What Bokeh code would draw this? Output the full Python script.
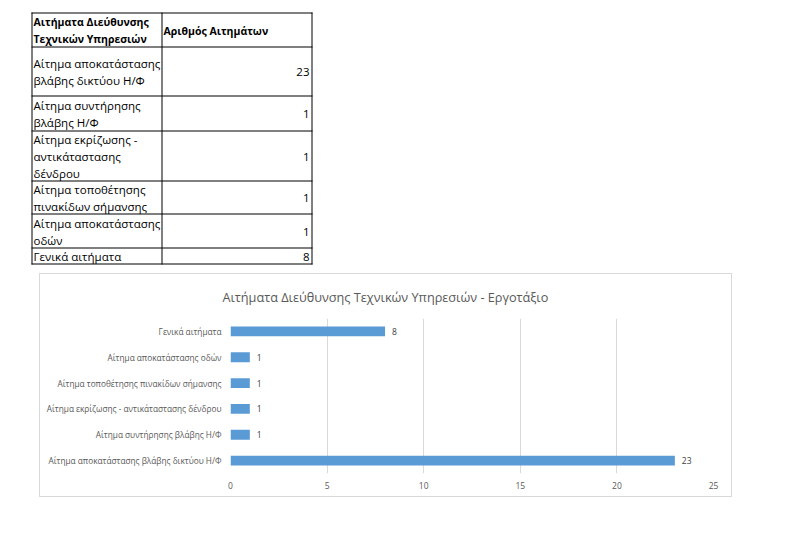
from bokeh.plotting import figure
from bokeh.models import Range1d, FactorRange, ColumnDataSource, FixedTicker, Spacer
from bokeh.layouts import column, row
from bokeh.embed import file_html
from bokeh.resources import INLINE
from bokeh.core.properties import value

# ---------------- data ----------------
title_text = "Αιτήματα Διεύθυνσης Τεχνικών Υπηρεσιών - Εργοτάξιο"
header_col1 = ["Αιτήματα Διεύθυνσης", "Τεχνικών Υπηρεσιών"]
header_col2 = ["Αριθμός Αιτημάτων"]

categories = [
    "Αίτημα αποκατάστασης βλάβης δικτύου Η/Φ",
    "Αίτημα συντήρησης βλάβης Η/Φ",
    "Αίτημα εκρίζωσης - αντικάταστασης δένδρου",
    "Αίτημα τοποθέτησης πινακίδων σήμανσης",
    "Αίτημα αποκατάστασης οδών",
    "Γενικά αιτήματα",
]
counts = [23, 1, 1, 1, 1, 8]

# how the category names wrap inside the table cells
table_lines = [
    ["Αίτημα αποκατάστασης", "βλάβης δικτύου Η/Φ"],
    ["Αίτημα συντήρησης", "βλάβης Η/Φ"],
    ["Αίτημα εκρίζωσης -", "αντικάταστασης", "δένδρου"],
    ["Αίτημα τοποθέτησης", "πινακίδων σήμανσης"],
    ["Αίτημα αποκατάστασης", "οδών"],
    ["Γενικά αιτήματα"],
]
x_ticks = [0, 5, 10, 15, 20, 25]

# ---------------- layout constants ----------------
FONT = "Open Sans"
col_x = [31, 161, 311]
row_y = [12, 46, 95, 130, 180, 213, 247, 263]
LINE_GAP = 17
TOP_H = 274

# ---------------- table figure ----------------
p1 = figure(width=780, height=TOP_H, x_range=Range1d(0, 780), y_range=Range1d(TOP_H, 0),
            min_border=0, toolbar_location=None, output_backend="svg",
            x_axis_location=None, y_axis_location=None)
p1.frame_align = False
p1.grid.visible = False
p1.outline_line_color = None

# grid lines of the table
hx0, hx1, hy = [], [], []
for y in row_y:
    hx0.append(col_x[0]); hx1.append(col_x[-1] + 1); hy.append(y + 0.5)
p1.segment(x0=hx0, y0=hy, x1=hx1, y1=hy, line_color="black", line_width=1)
vx, vy0, vy1 = [], [], []
for x in col_x:
    vx.append(x + 0.5); vy0.append(row_y[0]); vy1.append(row_y[-1] + 1)
p1.segment(x0=vx, y0=vy0, x1=vx, y1=vy1, line_color="black", line_width=1)

# header text
hc = (row_y[0] + row_y[1]) / 2 + 1
tx, ty, tt = [], [], []
for i, line in enumerate(header_col1):
    tx.append(col_x[0] + 2)
    ty.append(hc + (i - (len(header_col1) - 1) / 2) * LINE_GAP)
    tt.append(line)
for i, line in enumerate(header_col2):
    tx.append(col_x[1] + 2)
    ty.append(hc + (i - (len(header_col2) - 1) / 2) * LINE_GAP)
    tt.append(line)
p1.text(x=tx, y=ty, text=tt, text_font=value(FONT), text_font_size="10.5px",
        text_font_style="bold", text_baseline="middle", text_align="left",
        text_color="black")

# body text
bx, by, bt = [], [], []
vxs, vys, vts = [], [], []
for r, lines in enumerate(table_lines):
    c = (row_y[r + 1] + row_y[r + 2]) / 2 + 1
    for i, line in enumerate(lines):
        bx.append(col_x[0] + 2)
        by.append(c + (i - (len(lines) - 1) / 2) * LINE_GAP)
        bt.append(line)
    vxs.append(col_x[2] - 2)
    vys.append(c)
    vts.append(str(counts[r]))
p1.text(x=bx, y=by, text=bt, text_font=value(FONT), text_font_size="11.5px",
        text_baseline="middle", text_align="left", text_color="black")
p1.text(x=vxs, y=vys, text=vts, text_font=value(FONT), text_font_size="11.5px",
        text_baseline="middle", text_align="right", text_color="black")

# ---------------- bar chart ----------------
src = ColumnDataSource(dict(cat=categories, val=counts, lab=[str(v) for v in counts]))

p2 = figure(width=691, height=222, y_range=FactorRange(*categories),
            x_range=Range1d(0, 25), toolbar_location=None, output_backend="svg",
            min_border_left=190, min_border_right=18, min_border_top=42,
            min_border_bottom=23)
p2.frame_align = False
p2.styles = {"outline": "1px solid #d9d9d9"}
p2.outline_line_color = None
p2.background_fill_color = "white"
p2.border_fill_color = "white"

p2.title.text = title_text
p2.title.align = "left"
p2.title.offset = -8
p2.title.standoff = 24
p2.title.vertical_align = "middle"
p2.title.text_font = FONT
p2.title.text_font_size = "12.7px"
p2.title.text_font_style = "normal"
p2.title.text_color = "#595959"

p2.hbar(y="cat", right="val", left=0, height=0.38, source=src,
        fill_color="#5B9BD5", line_color=None)
p2.text(x="val", y="cat", text="lab", source=src, x_offset=7,
        text_baseline="middle", text_align="left", text_font=value(FONT),
        text_font_size="8.5px", text_color="#404040")

p2.xaxis.ticker = FixedTicker(ticks=x_ticks)
p2.xaxis.axis_line_color = None
p2.xaxis.major_tick_line_color = None
p2.xaxis.minor_tick_line_color = None
p2.xaxis.major_tick_out = 0
p2.xaxis.major_tick_in = 0
p2.xaxis.axis_label = None
p2.xaxis.major_label_standoff = 8
p2.xaxis.major_label_text_font = FONT
p2.xaxis.major_label_text_font_size = "8.5px"
p2.xaxis.major_label_text_color = "#595959"

p2.yaxis.axis_line_color = None
p2.yaxis.major_tick_line_color = None
p2.yaxis.minor_tick_line_color = None
p2.yaxis.major_tick_out = 0
p2.yaxis.major_tick_in = 0
p2.yaxis.axis_label = None
p2.yaxis.major_label_standoff = 9
p2.yaxis.major_label_text_font = FONT
p2.yaxis.major_label_text_font_size = "8.25px"
p2.yaxis.major_label_text_color = "#595959"

p2.xgrid.grid_line_color = "#d9d9d9"
p2.xgrid.ticker = FixedTicker(ticks=x_ticks)
p2.ygrid.grid_line_color = None

layout = column(p1, row(Spacer(width=40, height=222), p2, spacing=0), spacing=0)
open("out.html", "w").write(file_html(layout, INLINE))
